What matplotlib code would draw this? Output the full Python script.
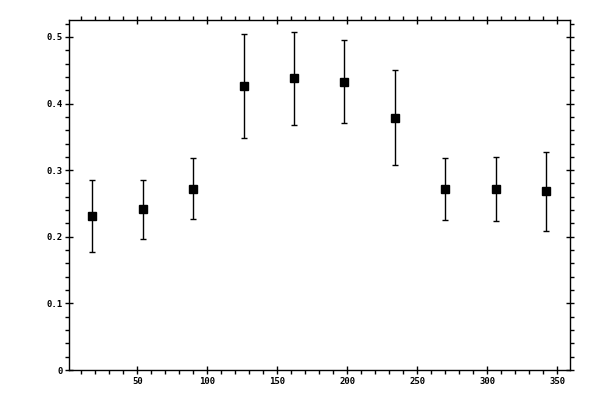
import matplotlib
matplotlib.use("Agg")
import matplotlib.pyplot as plt
from matplotlib.ticker import MultipleLocator, FormatStrFormatter

# angle bins and measured values
x_vals = [18, 54, 90, 126, 162, 198, 234, 270, 306, 342]
y_vals = [0.231, 0.241, 0.272, 0.427, 0.438, 0.433, 0.379, 0.271, 0.272, 0.268]
y_err = [0.0545, 0.044, 0.0455, 0.078, 0.070, 0.0625, 0.072, 0.0465, 0.048, 0.0595]

fig = plt.figure(figsize=(6, 4), dpi=100)
ax = fig.add_axes([0.1158, 0.075, 0.835, 0.876])

ax.errorbar(x_vals, y_vals, yerr=y_err, fmt='s', color='black', ms=6,
            ecolor='black', elinewidth=1, capsize=2.5, capthick=1)

ax.set_xlim(1.6, 359.4)
ax.set_ylim(0, 0.526)

ax.xaxis.set_major_locator(MultipleLocator(50))
ax.xaxis.set_minor_locator(MultipleLocator(10))
ax.yaxis.set_major_locator(MultipleLocator(0.1))
ax.yaxis.set_minor_locator(MultipleLocator(0.02))
ax.yaxis.set_major_formatter(FormatStrFormatter('%g'))

ax.tick_params(which='both', top=True, right=True, labeltop=False, labelright=False,
               width=1, color='black')
ax.tick_params(which='major', direction='inout', length=6, labelsize=6.5,
               pad=2)
ax.tick_params(which='minor', direction='out', length=3)

for lab in ax.get_xticklabels() + ax.get_yticklabels():
    lab.set_family('DejaVu Sans Mono')
    lab.set_fontweight('bold')

for s in ax.spines.values():
    s.set_linewidth(1)

fig.savefig("out.png", dpi=100)
